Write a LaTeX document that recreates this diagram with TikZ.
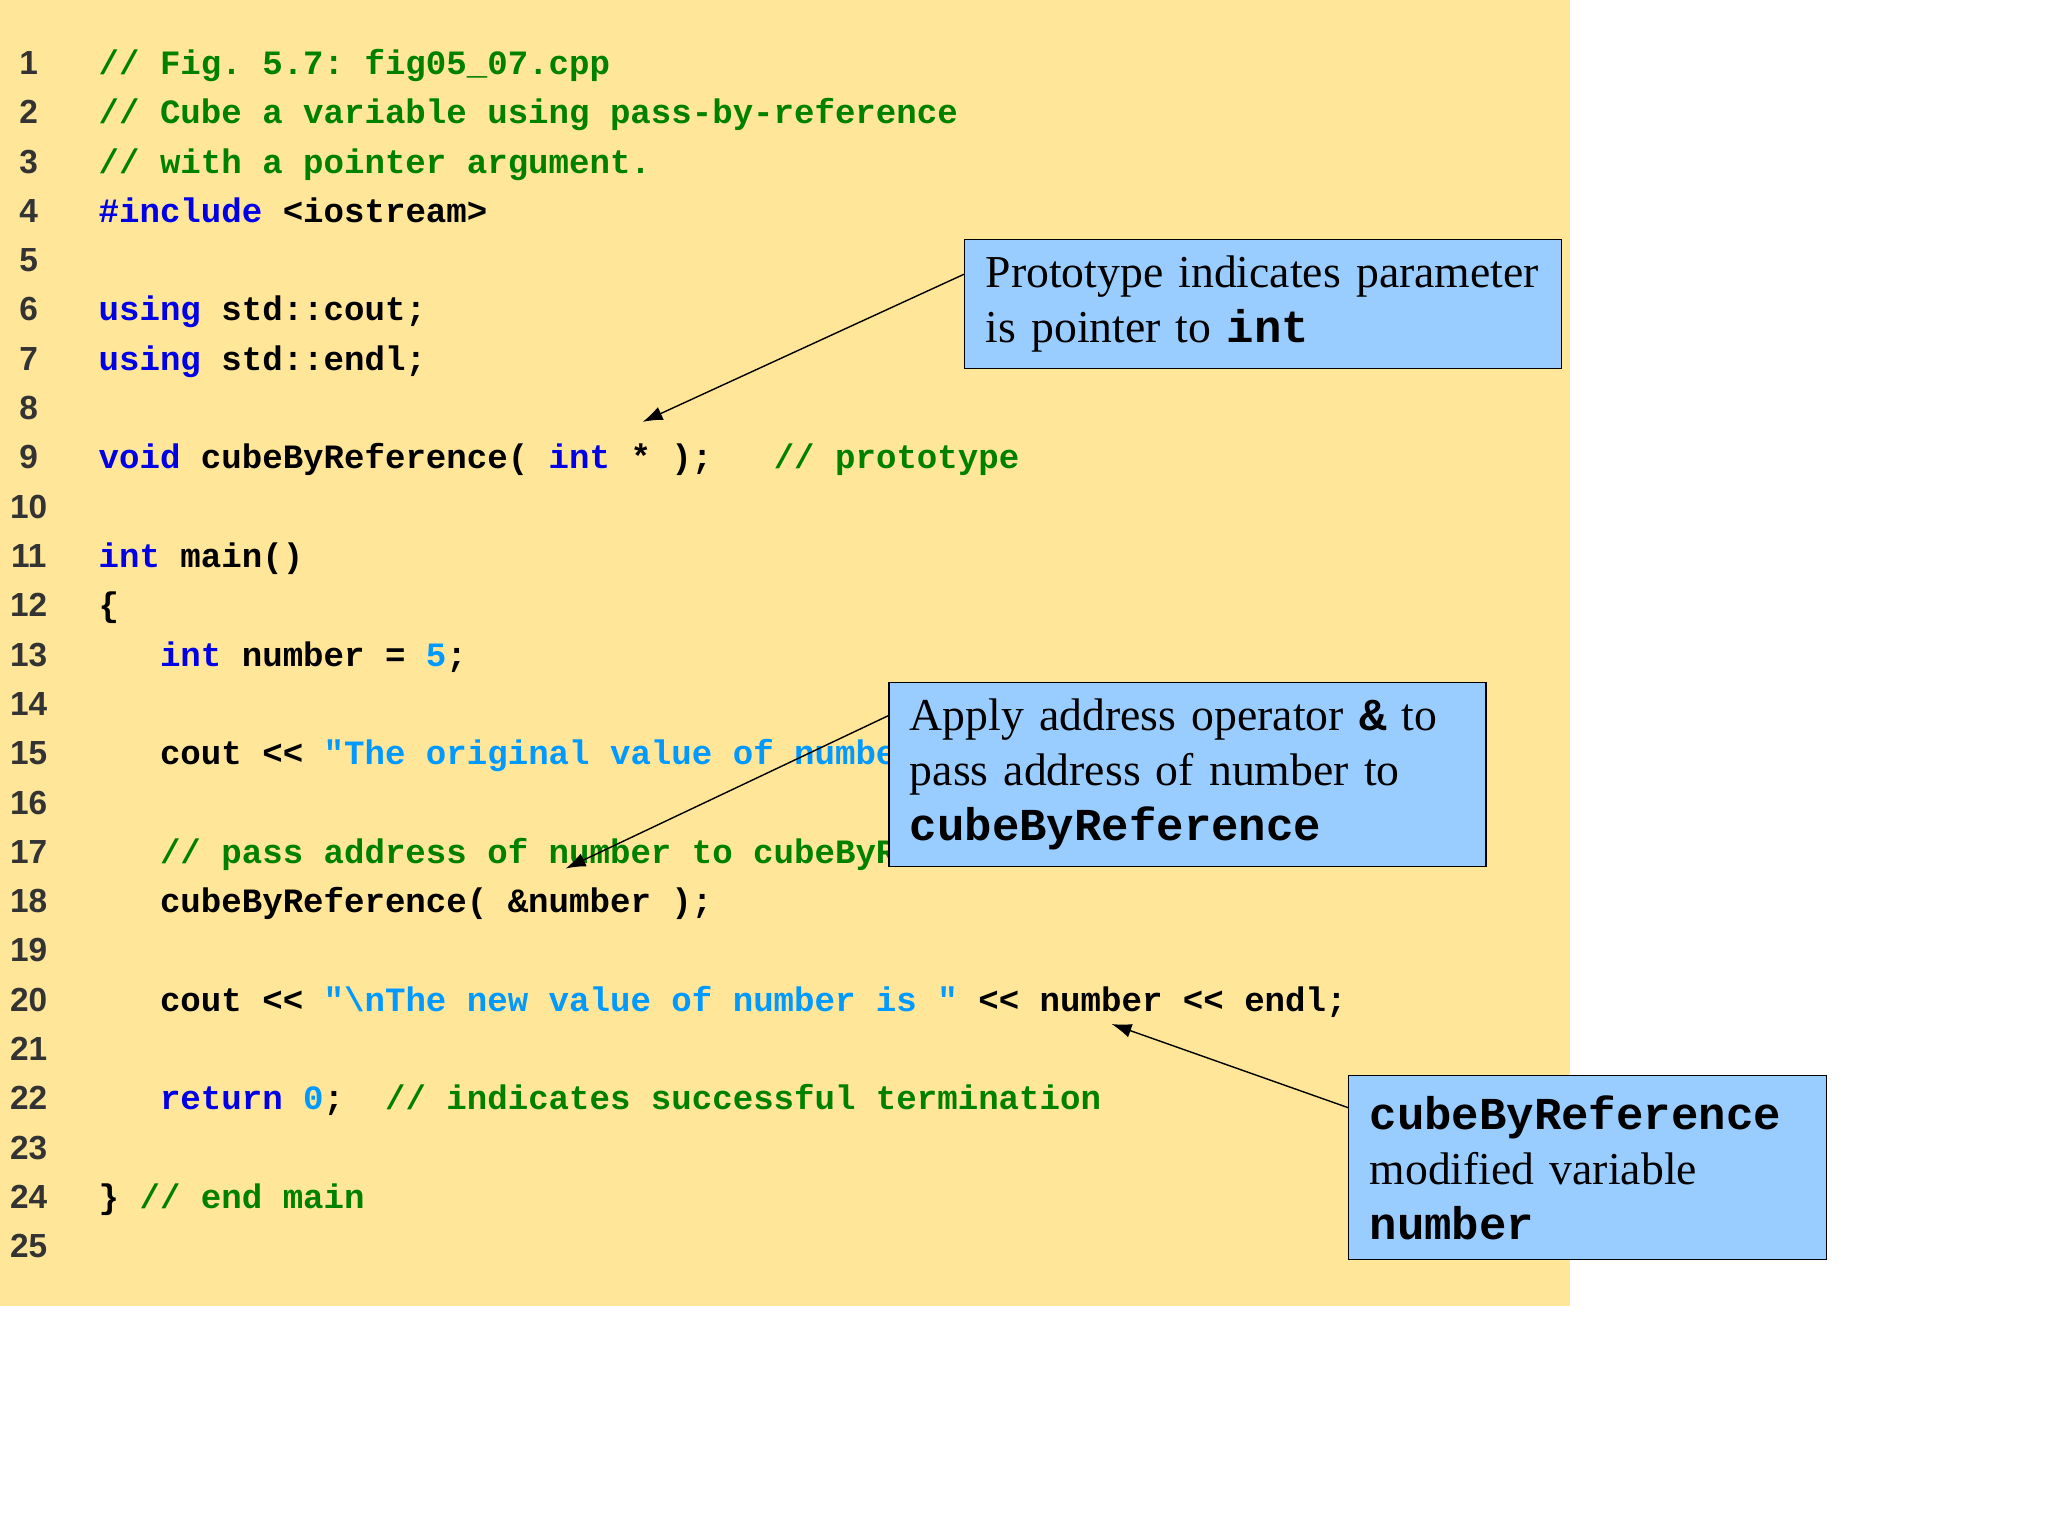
\documentclass[tikz,border=0pt]{standalone}
\usepackage{fontspec}
\setmainfont{Liberation Serif}
\newfontfamily\codefont{Liberation Mono}
\newfontfamily\numfont{Liberation Sans}
\usetikzlibrary{arrows.meta}
\definecolor{bgyellow}{RGB}{255,230,153}
\definecolor{boxblue}{RGB}{153,204,255}
\definecolor{cmgreen}{RGB}{0,128,0}
\definecolor{kwblue}{RGB}{0,0,230}
\definecolor{stblue}{RGB}{0,153,255}
\newcommand{\kw}[1]{\textcolor{kwblue}{#1}}
\newcommand{\cm}[1]{\textcolor{cmgreen}{#1}}
\newcommand{\st}[1]{\textcolor{stblue}{#1}}
\newcommand{\tc}[1]{{\codefont\bfseries #1}}
\frenchspacing
\begin{document}
\begin{tikzpicture}[x=0.013061cm,y=-0.013061cm,
  code/.style={anchor=base west,inner sep=0pt,font=\codefont\bfseries\fontsize{9.7}{11}\selectfont},
  lnum/.style={anchor=base,inner sep=0pt,font=\numfont\bfseries\fontsize{9.5}{11}\selectfont,text=black!80},
  note/.style={draw=black,fill=boxblue,anchor=north west,align=left,inner xsep=0.21cm,
    font=\fontsize{13}{15.6}\selectfont},
  pointer/.style={-{Latex[length=0.2cm,width=0.14cm]},thin}]
\useasboundingbox (0,0) rectangle (1568,1176);
\fill[bgyellow] (0,0) rectangle (1202,1000);
\foreach \i in {1,...,25}
  \node[lnum] (n\i) at (22,{57+(\i-1)*37.75}) {\i};
\newcommand{\codeline}[2]{\node[code] (c#1) at (75,{57+(#1-1)*37.75}) {#2};}
\codeline{1}{\cm{// Fig. 5.7: fig05\_07.cpp}}
\codeline{2}{\cm{// Cube a variable using pass-by-reference}}
\codeline{3}{\cm{// with a pointer argument.}}
\codeline{4}{\kw{\#include} <iostream>}
\codeline{6}{\kw{using} std::cout;}
\codeline{7}{\kw{using} std::endl;}
\codeline{9}{\kw{void} cubeByReference( \kw{int} * );\ \ \ \cm{// prototype}}
\codeline{11}{\kw{int} main()}
\codeline{12}{\{}
\codeline{13}{\ \ \ \kw{int} number = \st{5};}
\codeline{15}{\ \ \ cout << \st{"The original value of number is "} << number;}
\codeline{17}{\ \ \ \cm{// pass address of number to cubeByReference}}
\codeline{18}{\ \ \ cubeByReference( \&number );}
\codeline{20}{\ \ \ cout << \st{"\textbackslash nThe new value of number is "} << number << endl;}
\codeline{22}{\ \ \ \kw{return} \st{0};\ \ \cm{// indicates successful termination}}
\codeline{24}{\} \cm{// end main}}
% notes
\node[note,text width=5.55cm,minimum height=1.29cm] (b1) at (738,183)
  {Prototype indicates parameter\\is pointer to \tc{int}};
\node[note,text width=5.55cm,minimum height=1.84cm] (b2) at (680,522)
  {Apply address operator \tc{\&} to\\pass address of number to\\\tc{cubeByReference}};
\node[note,text width=4.36cm,minimum height=1.84cm] (b3) at (1032,823)
  {\tc{cubeByReference}\\modified variable\\\tc{number}};
\coordinate (s1) at (738,210);
\coordinate (s2) at (680,548);
\coordinate (s3) at (1032,848);
\coordinate (t1) at (492,323);
\coordinate (t2) at (433,665);
\coordinate (t3) at (851,784);
\draw[pointer] (s1) -- (t1);
\draw[pointer] (s2) -- (t2);
\draw[pointer] (s3) -- (t3);
\end{tikzpicture}
\end{document}
